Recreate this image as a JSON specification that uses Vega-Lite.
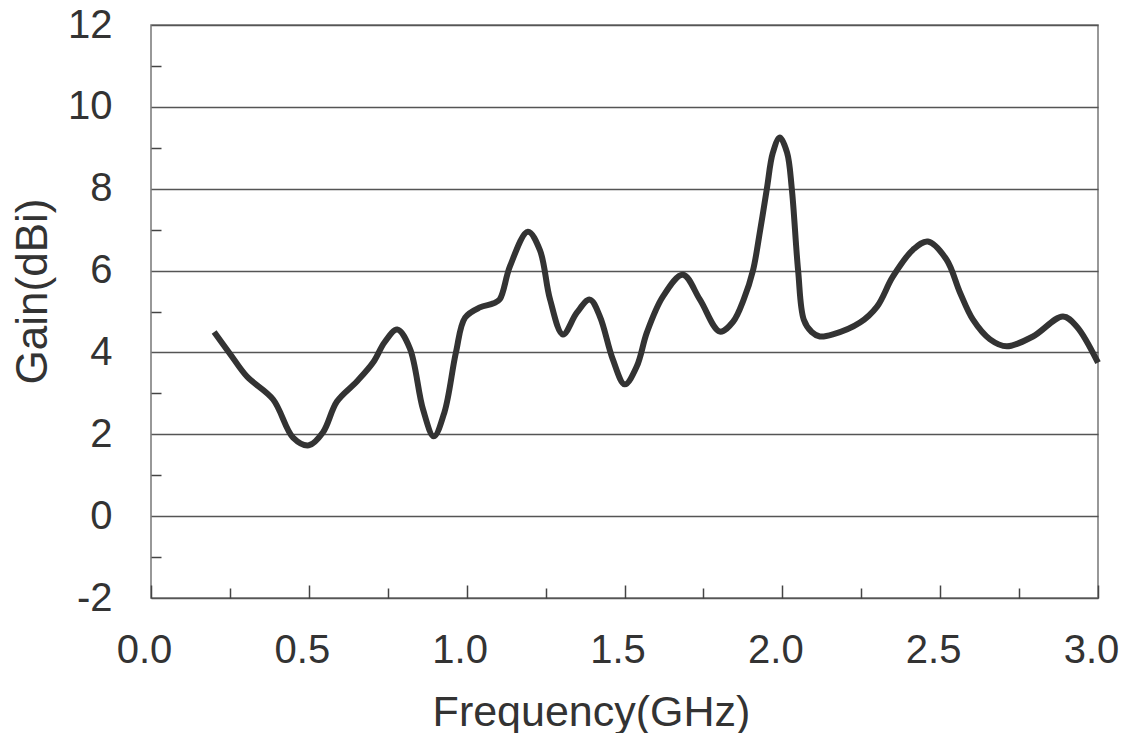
{
  "$schema": "https://vega.github.io/schema/vega-lite/v6.json",
  "width": 947,
  "height": 573,
  "autosize": {"type": "none"},
  "padding": {"left": 151, "top": 25, "right": 28, "bottom": 135},
  "background": "white",
  "config": {
    "font": "Liberation Sans",
    "view": {"stroke": "#777", "strokeWidth": 1.5}
  },
  "data": {
    "values": [
      {"f": 0.2, "g": 4.5},
      {"f": 0.25, "g": 3.97},
      {"f": 0.304, "g": 3.41},
      {"f": 0.387, "g": 2.85},
      {"f": 0.45, "g": 1.92},
      {"f": 0.5, "g": 1.73},
      {"f": 0.545, "g": 2.05},
      {"f": 0.589, "g": 2.8},
      {"f": 0.652, "g": 3.29},
      {"f": 0.704, "g": 3.76},
      {"f": 0.74, "g": 4.25},
      {"f": 0.78, "g": 4.56},
      {"f": 0.82, "g": 4.1},
      {"f": 0.862, "g": 2.6},
      {"f": 0.896, "g": 1.95},
      {"f": 0.93, "g": 2.55},
      {"f": 0.966, "g": 4.0},
      {"f": 0.995, "g": 4.85},
      {"f": 1.042, "g": 5.1},
      {"f": 1.085, "g": 5.2},
      {"f": 1.105, "g": 5.3},
      {"f": 1.137, "g": 6.1},
      {"f": 1.194, "g": 6.95},
      {"f": 1.232, "g": 6.5},
      {"f": 1.264, "g": 5.3},
      {"f": 1.305, "g": 4.44},
      {"f": 1.349, "g": 4.97},
      {"f": 1.39, "g": 5.29},
      {"f": 1.422, "g": 4.88},
      {"f": 1.463, "g": 3.83},
      {"f": 1.501, "g": 3.22},
      {"f": 1.539, "g": 3.66},
      {"f": 1.571, "g": 4.49},
      {"f": 1.622, "g": 5.37},
      {"f": 1.685, "g": 5.9},
      {"f": 1.739, "g": 5.29},
      {"f": 1.802, "g": 4.51},
      {"f": 1.844, "g": 4.75},
      {"f": 1.878, "g": 5.3},
      {"f": 1.907, "g": 6.0},
      {"f": 1.93, "g": 7.0},
      {"f": 1.951, "g": 8.0},
      {"f": 1.97, "g": 8.88},
      {"f": 1.992, "g": 9.25},
      {"f": 2.015, "g": 8.88},
      {"f": 2.03, "g": 8.0},
      {"f": 2.05, "g": 6.0},
      {"f": 2.068, "g": 4.8},
      {"f": 2.093, "g": 4.5},
      {"f": 2.119, "g": 4.39},
      {"f": 2.16, "g": 4.44},
      {"f": 2.246, "g": 4.73},
      {"f": 2.3, "g": 5.12},
      {"f": 2.35, "g": 5.85},
      {"f": 2.414, "g": 6.51},
      {"f": 2.461, "g": 6.71},
      {"f": 2.52, "g": 6.27},
      {"f": 2.563, "g": 5.46},
      {"f": 2.604, "g": 4.8},
      {"f": 2.658, "g": 4.32},
      {"f": 2.711, "g": 4.15},
      {"f": 2.794, "g": 4.39},
      {"f": 2.889, "g": 4.88},
      {"f": 2.933, "g": 4.63},
      {"f": 3.0, "g": 3.75}
    ]
  },
  "layer": [
    {
      "mark": {"type": "line", "opacity": 0},
      "encoding": {
        "x": {
          "field": "f", "type": "quantitative",
          "scale": {"domain": [0, 3], "nice": false, "zero": false},
          "axis": {
            "orient": "bottom", "values": [0.25, 0.75, 1.25, 1.75, 2.25, 2.75],
            "labels": false, "domain": false, "grid": false, "title": null,
            "tickSize": -10, "tickColor": "#444", "tickWidth": 1.5
          }
        },
        "y": {
          "field": "g", "type": "quantitative",
          "scale": {"domain": [-2, 12], "nice": false, "zero": false},
          "axis": {
            "orient": "left", "values": [-1, 1, 3, 5, 7, 9, 11],
            "labels": false, "domain": false, "grid": false, "title": null,
            "tickSize": -10, "tickColor": "#444", "tickWidth": 1.5
          }
        }
      }
    },
    {
      "mark": {"type": "line", "color": "#333", "strokeWidth": 6, "interpolate": "catmull-rom", "strokeCap": "butt", "strokeJoin": "round"},
      "encoding": {
        "x": {
          "field": "f", "type": "quantitative",
          "scale": {"domain": [0, 3], "nice": false, "zero": false},
          "axis": {
            "orient": "bottom", "values": [0, 0.5, 1, 1.5, 2, 2.5, 3], "format": ".1f",
            "grid": false, "domain": false,
            "tickSize": -13, "tickColor": "#444", "tickWidth": 1.5,
            "labelFontSize": 40, "labelColor": "#333", "labelPadding": 45, "labelOffset": -7,
            "labelBaseline": "top", "labelFlush": false,
            "title": "Frequency(GHz)", "titleFontSize": 43, "titleFontWeight": "normal", "titleColor": "#333",
            "titleX": 440, "titleY": 127, "titleAlign": "center", "titleBaseline": "alphabetic"
          }
        },
        "y": {
          "field": "g", "type": "quantitative",
          "scale": {"domain": [-2, 12], "nice": false, "zero": false},
          "axis": {
            "orient": "left", "values": [-2, 0, 2, 4, 6, 8, 10, 12],
            "labelExpr": "'' + datum.value",
            "grid": true, "gridColor": "#555", "gridWidth": 1.3, "gridOpacity": 1,
            "domain": false, "ticks": false,
            "labelFontSize": 40, "labelColor": "#333", "labelPadding": 39, "labelBaseline": "middle", "labelFlush": false,
            "title": "Gain(dBi)", "titleFontSize": 44, "titleFontWeight": "normal", "titleColor": "#333",
            "titleAngle": -90, "titleX": -105, "titleY": 266, "titleAlign": "center", "titleBaseline": "alphabetic"
          }
        }
      }
    }
  ],
  "resolve": {"axis": {"x": "independent", "y": "independent"}}
}
